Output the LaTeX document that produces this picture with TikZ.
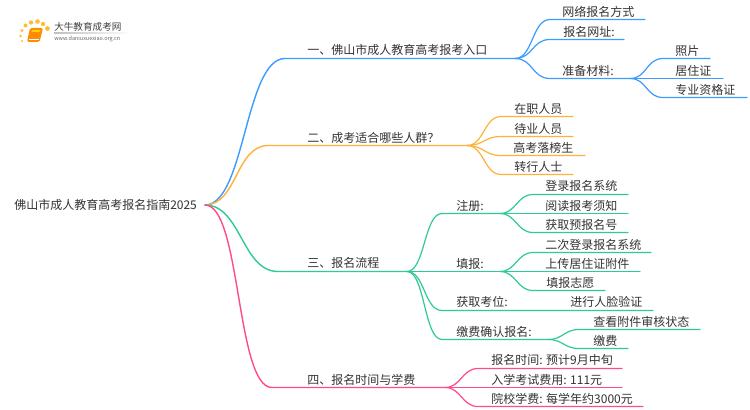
\documentclass[tikz,border=0pt]{standalone}
\usepackage{fontspec}
\setmainfont{Noto Sans CJK SC}
\definecolor{cb}{HTML}{3A9CFF}
\definecolor{co}{HTML}{FFB23A}
\definecolor{cg}{HTML}{2ECC93}
\definecolor{cp}{HTML}{FF4A8D}
\definecolor{ct}{HTML}{333333}
\tikzset{
  lbl/.style={font=\fontsize{9pt}{11pt}\selectfont,text=ct,inner sep=0pt,anchor=west},
  link/.style={line width=1.05pt,line cap=round},
  sm/.style={link,line width=0.9pt},
}
\newcommand{\bez}[3]{(#1) .. controls +(#3,0) and +(-#3,0) .. (#2)}
\begin{document}
\begin{tikzpicture}[x=0.75pt,y=-0.75pt]
\useasboundingbox (0,0) rectangle (750,410);
\fill[white] (0,0) rectangle (750,410);
% logo
\foreach \x/\y/\r in {22/41/1.2,20.5/36/1.4,22/30.5/1.7,25.5/25.5/2,31/22.5/2.2,37.5/21.5/2.3,43/24/2.2,47.5/28.5/2.4}
  \fill[co!85!yellow] (\x,\y) circle (\r);
\fill[orange!90!yellow,rounded corners=1.2] (30,28) -- (43,28) -- (39.5,42) -- (27,42) -- cycle;
\fill[yellow!70!orange] (32,30) -- (40.5,30) -- (40,32) -- (31.5,32) -- cycle;
\draw[white,line width=0.4pt] (28.5,39.5) -- (38.5,39.5);
\node[inner sep=0pt,anchor=west,font=\fontsize{7.2pt}{9pt}\selectfont,text=black!75] (logoa) at (54,27) {大牛教育成考网};
\node[inner sep=0pt,anchor=west,font=\fontsize{4.1pt}{5pt}\selectfont,text=black!60] (logob) at (54,39) {www.daniuxuexiao.org.cn};
\fill[left color=black!25,right color=white] (54,33) rectangle (132,33.8);

% root
\node[lbl] (root) at (14,205) {佛山市成人教育高考报名指南2025};
\coordinate (r) at (205,205);

% level 1 points
\coordinate (a0) at (285,58.5);  \coordinate (a1) at (515,58.5);
\coordinate (b0) at (268,145.5); \coordinate (b1) at (467,145.5);
\coordinate (c0) at (278,271.5); \coordinate (c1) at (407,271.5);
\coordinate (d0) at (272,387.5); \coordinate (d1) at (445,387.5);

% blue
\draw[link,cb] \bez{r}{a0}{40} -- (a1);
\node[lbl] (at) at (307,50) {一、佛山市成人教育高考报考入口};
\coordinate (a2s) at (550,19.5); \coordinate (a2e) at (645,19.5);
\coordinate (a3s) at (550,39.5); \coordinate (a3e) at (624,39.5);
\coordinate (a4s) at (550,78.5); \coordinate (a4e) at (630,78.5);
\draw[sm,cb] \bez{a1}{a2s}{18} -- (a2e);
\draw[sm,cb] \bez{a1}{a3s}{18} -- (a3e);
\draw[sm,cb] \bez{a1}{a4s}{18} -- (a4e);
\node[lbl] (a2t) at (562,12) {网络报名方式};
\node[lbl] (a3t) at (563,31.5) {报名网址:};
\node[lbl] (a4t) at (562,70.5) {准备材料:};
\coordinate (a5s) at (663,58.5); \coordinate (a5e) at (710,58.5);
\coordinate (a6e) at (723,78.5);
\coordinate (a7s) at (663,97.5); \coordinate (a7e) at (747,97.5);
\draw[sm,cb] \bez{a4e}{a5s}{17} -- (a5e);
\draw[sm,cb] (a4e) -- (a6e);
\draw[sm,cb] \bez{a4e}{a7s}{17} -- (a7e);
\node[lbl] (a5t) at (675,51) {照片};
\node[lbl] (a6t) at (675,70.5) {居住证};
\node[lbl] (a7t) at (675,89.5) {专业资格证};

% orange
\draw[link,co] \bez{r}{b0}{32} -- (b1);
\node[lbl] (bt) at (307,138) {二、成考适合哪些人群？};
\coordinate (b2s) at (501,116.5); \coordinate (b2e) at (573,116.5);
\coordinate (b3s) at (501,136.5); \coordinate (b3e) at (573,136.5);
\coordinate (b4s) at (501,155.5); \coordinate (b4e) at (585,155.5);
\coordinate (b5s) at (501,174.5); \coordinate (b5e) at (573,174.5);
\draw[sm,co] \bez{b1}{b2s}{17} -- (b2e);
\draw[sm,co] \bez{b1}{b3s}{17} -- (b3e);
\draw[sm,co] \bez{b1}{b4s}{17} -- (b4e);
\draw[sm,co] \bez{b1}{b5s}{17} -- (b5e);
\node[lbl] (b2t) at (514,109) {在职人员};
\node[lbl] (b3t) at (514,128.5) {待业人员};
\node[lbl] (b4t) at (513,147.5) {高考落榜生};
\node[lbl] (b5t) at (514,166.5) {转行人士};

% green
\draw[link,cg] \bez{r}{c0}{36} -- (c1);
\node[lbl] (ct) at (307,263) {三、报名流程};
\coordinate (c2s) at (442,213.5); \coordinate (c2e) at (500,213.5);
\coordinate (c3e) at (500,271.5);
\coordinate (c4s) at (442,310.5); \coordinate (c4e) at (653,310.5);
\coordinate (c5s) at (442,339.5); \coordinate (c5e) at (548,339.5);
\draw[sm,cg] \bez{c1}{c2s}{18} -- (c2e);
\draw[sm,cg] (c1) -- (c3e);
\draw[sm,cg] \bez{c1}{c4s}{18} -- (c4e);
\draw[sm,cg] \bez{c1}{c5s}{18} -- (c5e);
\node[lbl] (c2t) at (456,205.5) {注册:};
\node[lbl] (c3t) at (456,263.5) {填报:};
\node[lbl] (c4t) at (456,302) {获取考位:};
\node[lbl] (c4u) at (570,302) {进行人脸验证};
\node[lbl] (c5t) at (456,331.5) {缴费确认报名:};
% green children
\coordinate (e1s) at (533,194.5); \coordinate (e1e) at (628,194.5);
\coordinate (e2e) at (628,213.5);
\coordinate (e3s) at (533,232.5); \coordinate (e3e) at (628,232.5);
\draw[sm,cg] \bez{c2e}{e1s}{16} -- (e1e);
\draw[sm,cg] (c2e) -- (e2e);
\draw[sm,cg] \bez{c2e}{e3s}{16} -- (e3e);
\node[lbl] (e1t) at (545,186) {登录报名系统};
\node[lbl] (e2t) at (545,205.5) {阅读报考须知};
\node[lbl] (e3t) at (545,225) {获取预报名号};
\coordinate (f1s) at (533,252.5); \coordinate (f1e) at (651,252.5);
\coordinate (f2e) at (640,271.5);
\coordinate (f3s) at (533,290.5); \coordinate (f3e) at (605,290.5);
\draw[sm,cg] \bez{c3e}{f1s}{16} -- (f1e);
\draw[sm,cg] (c3e) -- (f2e);
\draw[sm,cg] \bez{c3e}{f3s}{16} -- (f3e);
\node[lbl] (f1t) at (545,244.5) {二次登录报名系统};
\node[lbl] (f2t) at (545,264) {上传居住证附件};
\node[lbl] (f3t) at (546,283) {填报志愿};
\coordinate (g1s) at (579,329.5); \coordinate (g1e) at (700,329.5);
\coordinate (g2s) at (579,348.5); \coordinate (g2e) at (628,348.5);
\draw[sm,cg] \bez{c5e}{g1s}{15} -- (g1e);
\draw[sm,cg] \bez{c5e}{g2s}{15} -- (g2e);
\node[lbl] (g1t) at (593,321.5) {查看附件审核状态};
\node[lbl] (g2t) at (593,340.5) {缴费};

% pink
\draw[link,cp] \bez{r}{d0}{36} -- (d1);
\node[lbl] (dt) at (307,380) {四、报名时间与学费};
\coordinate (d2s) at (478,368.5); \coordinate (d2e) at (622,368.5);
\coordinate (d3e) at (622,387.5);
\coordinate (d4s) at (478,406.5); \coordinate (d4e) at (643,406.5);
\draw[sm,cp] \bez{d1}{d2s}{16} -- (d2e);
\draw[sm,cp] (d1) -- (d3e);
\draw[sm,cp] \bez{d1}{d4s}{16} -- (d4e);
\node[lbl] (d2t) at (491,360) {报名时间: 预计9月中旬};
\node[lbl] (d3t) at (491,379.5) {入学考试费用: 111元};
\node[lbl] (d4t) at (491,399) {院校学费: 每学年约3000元};
\end{tikzpicture}
\end{document}
